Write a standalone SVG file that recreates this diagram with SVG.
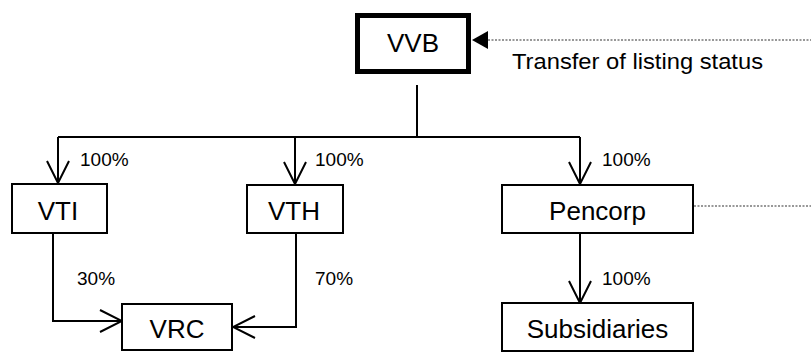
<svg xmlns="http://www.w3.org/2000/svg" width="811" height="353" viewBox="0 0 811 353">
<style>
.box{fill:#fff;stroke:#000;stroke-width:2}
.lbl{font-family:"Liberation Sans",Arial,sans-serif;font-size:26px;fill:#000;text-anchor:middle}
.pct{font-family:"Liberation Sans",Arial,sans-serif;font-size:19px;fill:#000}
.ln{fill:none;stroke:#000;stroke-width:2}
.dot{fill:none;stroke:#333;stroke-width:1.2;stroke-dasharray:2 1.5}
</style>
<defs>
<marker id="open" viewBox="0 0 26 26" refX="24" refY="13" markerWidth="26" markerHeight="26" markerUnits="userSpaceOnUse" orient="auto">
<path d="M2 2 L24 13 L2 24" fill="none" stroke="#000" stroke-width="2"/>
</marker>
</defs>
<g id="connectors">
<path class="ln" d="M417 85 V137"/>
<path class="ln" d="M58 137 H580"/>
<path class="ln" d="M58 137 V183" marker-end="url(#open)"/>
<path class="ln" d="M295 137 V184" marker-end="url(#open)"/>
<path class="ln" d="M580 137 V184" marker-end="url(#open)"/>
<path class="ln" d="M580 233 V303" marker-end="url(#open)"/>
<path class="ln" d="M53 233 V321 H122" marker-end="url(#open)"/>
<path class="ln" d="M296 233 V327 H233" marker-end="url(#open)"/>
<path class="dot" d="M488 40 H811"/>
<polygon points="472,40 488,31 488,49" fill="#000"/>
<path class="dot" d="M694 206 H811"/>
<text class="pct" x="80" y="166">100%</text>
<text class="pct" x="315" y="166">100%</text>
<text class="pct" x="602" y="166">100%</text>
<text class="pct" x="602" y="285">100%</text>
<text class="pct" x="77" y="285">30%</text>
<text class="pct" x="315" y="285">70%</text>
<text x="512" y="69" font-family="Liberation Sans, Arial, sans-serif" font-size="22" textLength="251" lengthAdjust="spacingAndGlyphs">Transfer of listing status</text>
</g>
<g id="VVB">
<rect x="357.5" y="15.5" width="111" height="56" fill="#fff" stroke="#000" stroke-width="5"/>
<text class="lbl" x="413" y="52">VVB</text>
</g>
<g id="VTI">
<rect class="box" x="12" y="184" width="95" height="49"/>
<text class="lbl" x="58" y="220">VTI</text>
</g>
<g id="VTH">
<rect class="box" x="247" y="185" width="96" height="48"/>
<text class="lbl" x="294" y="220">VTH</text>
</g>
<g id="Pencorp">
<rect class="box" x="502" y="185" width="191" height="48"/>
<text class="lbl" x="597.5" y="220">Pencorp</text>
</g>
<g id="Subsidiaries">
<rect class="box" x="502" y="303" width="191" height="48"/>
<text class="lbl" x="597.5" y="338">Subsidiaries</text>
</g>
<g id="VRC">
<rect class="box" x="122" y="304" width="110" height="46"/>
<text class="lbl" x="177" y="338">VRC</text>
</g>
</svg>
